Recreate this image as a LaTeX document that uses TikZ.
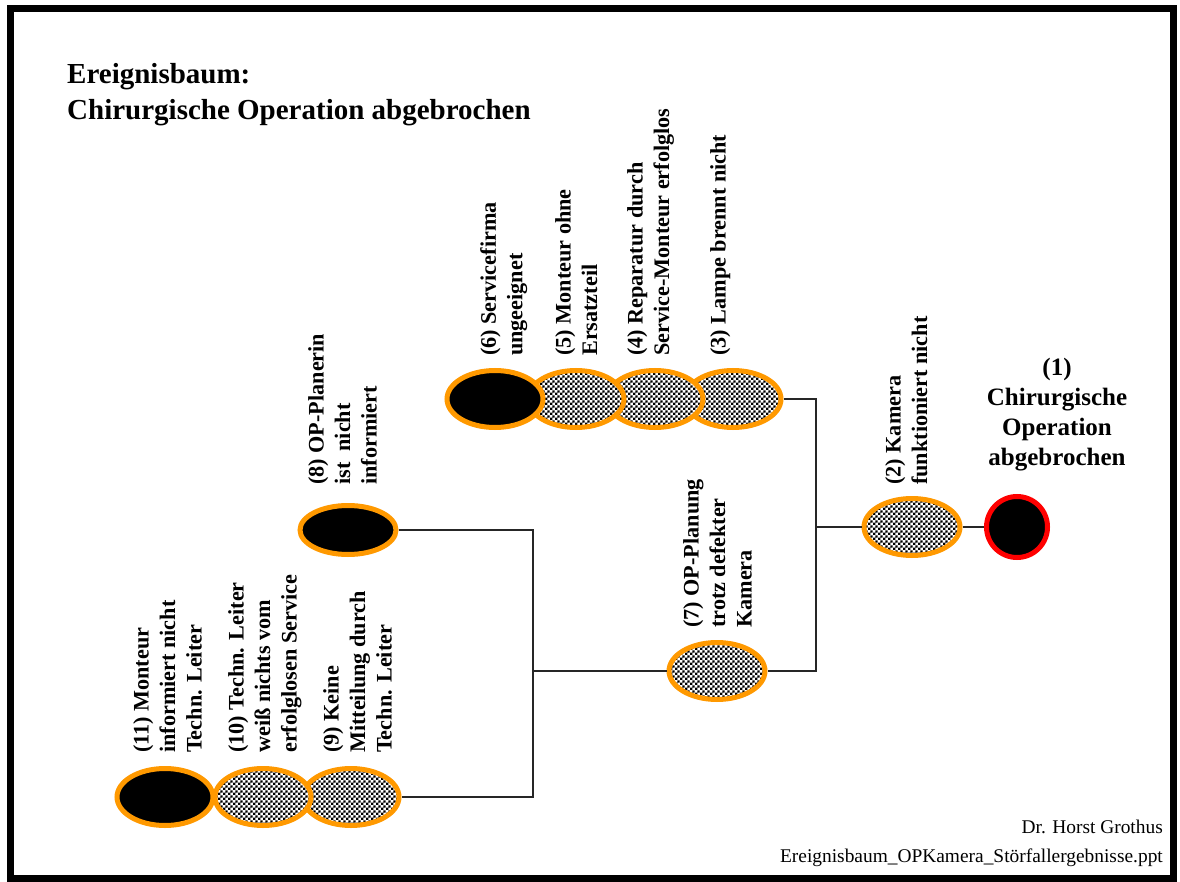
\documentclass[tikz,border=0pt]{standalone}
\usepackage{fontspec}
\setmainfont{Liberation Serif}
\usetikzlibrary{shapes.geometric,patterns}
\definecolor{evorange}{RGB}{255,153,0}
\definecolor{evred}{RGB}{255,0,0}
% checkerboard fill for the intermediate events
\pgfdeclarepatternformonly{finecheck}{\pgfpointorigin}{\pgfqpoint{5.2pt}{5.2pt}}{\pgfqpoint{5.2pt}{5.2pt}}{%
  \pgfpathrectangle{\pgfpointorigin}{\pgfqpoint{2.65pt}{2.65pt}}%
  \pgfpathrectangle{\pgfqpoint{2.6pt}{2.6pt}}{\pgfqpoint{2.65pt}{2.65pt}}%
  \pgfusepath{fill}}
\tikzset{
  event/.style={ellipse, draw=evorange, line width=5pt, inner sep=0pt,
                minimum width=96pt, minimum height=57pt},
  chk/.style={event, preaction={fill=white}, pattern=finecheck},
  blk/.style={event, fill=black},
  lbl/.style={rotate=90, anchor=north west, align=left, inner sep=0pt,
              font=\bfseries\fontsize{22.2}{26.5}\selectfont},
  link/.style={draw=black!85, line width=1.2pt},
  foot/.style={anchor=base east, inner sep=0pt, font=\fontsize{19.4}{23}\selectfont}
}
\begin{document}
\begin{tikzpicture}[x=1pt,y=-1pt]
\useasboundingbox (0,0) rectangle (1180,882);
% outer frame
\draw[line width=7pt] (10.5,8.5) rectangle (1173,878.5);

% title
\node[anchor=north west, align=left, inner sep=0pt,
      font=\bfseries\fontsize{29}{36}\selectfont] (title) at (67,63)
  {Ereignisbaum:\\Chirurgische Operation abgebrochen};

% events, drawn right to left so the left ones overlap
\node[chk] (n3) at (733,399) {};
\node[chk] (n4) at (655,399) {};
\node[chk] (n5) at (576,399) {};
\node[blk] (n6) at (495,399) {};

\node[chk] (n2) at (912,527) {};
\node[circle, draw=evred, fill=black, line width=5pt, inner sep=0pt,
      minimum size=61pt] (n1) at (1017,527) {};

\node[chk] (n7) at (717,671) {};
\node[blk, minimum height=49pt] (n8) at (348,530) {};

\node[chk] (n9) at (351,797) {};
\node[chk] (n10) at (263,797) {};
\node[blk] (n11) at (165,797) {};

% junctions
\coordinate (jr) at (816,527);
\coordinate (jl) at (533,671);

% connectors
\draw[link] (n3.east) -| (jr) |- (n7.east);
\draw[link] (jr) -- (n2.west);
\draw[link] (n2.east) -- (n1.west);
\draw[link] (n8.east) -| (jl) |- (n9.east);
\draw[link] (jl) -- (n7.west);

% labels
\node[lbl] (t6) at (480,356) {(6) Servicefirma\\ungeeignet};
\node[lbl] (t5) at (555,356) {(5) Monteur ohne\\Ersatzteil};
\node[lbl] (t4) at (627,356) {(4) Reparatur durch\\Service-Monteur erfolglos};
\node[lbl] (t3) at (710,356) {(3) Lampe brennt nicht};
\node[lbl] (t2) at (885,485) {(2) Kamera\\funktioniert nicht};
\node[lbl] (t7) at (683,628) {(7) OP-Planung\\trotz defekter\\Kamera};
\node[lbl] (t8) at (308,485) {(8) OP-Planerin\\ist\ \ nicht\\informiert};
\node[lbl] (t11) at (133,753) {(11) Monteur\\informiert nicht\\Techn. Leiter};
\node[lbl] (t10) at (228,753) {(10) Techn. Leiter\\weiß nichts vom\\erfolglosen Service};
\node[lbl] (t9) at (323,753) {(9) Keine\\Mitteilung durch\\Techn. Leiter};

\node[anchor=north, align=center, inner sep=0pt,
      font=\bfseries\fontsize{25}{30}\selectfont] (t1) at (1057,358)
  {(1)\\Chirurgische\\Operation\\abgebrochen};

% footer
\node[foot] (author) at (1163,833) {Dr. Horst Grothus};
\node[foot] (file) at (1163,862) {Ereignisbaum\_OPKamera\_Störfallergebnisse.ppt};
\end{tikzpicture}
\end{document}
